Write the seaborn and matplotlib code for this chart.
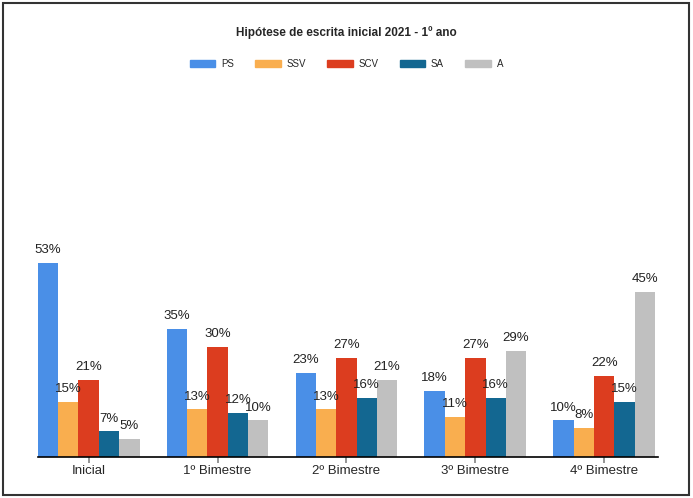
import numpy as np
import pandas as pd
import matplotlib.pyplot as plt
import seaborn as sns
from matplotlib.patches import Rectangle

categories = ["Inicial", "1º Bimestre", "2º Bimestre", "3º Bimestre", "4º Bimestre"]
series = ["PS", "SSV", "SCV", "SA", "A"]
ps = [53, 35, 23, 18, 10]
ssv = [15, 13, 13, 11, 8]
scv = [21, 30, 27, 27, 22]
sa = [7, 12, 16, 16, 15]
a = [5, 10, 21, 29, 45]
colors = ["#4a8fe7", "#f9ae4f", "#dc3d1f", "#136791", "#c0c0c0"]

rows = []
for name, vals in zip(series, [ps, ssv, scv, sa, a]):
    for cat, v in zip(categories, vals):
        rows.append({"periodo": cat, "hipotese": name, "valor": v})
df = pd.DataFrame(rows)

sns.set_theme(style="white")
plt.rcParams['font.family'] = ['Liberation Sans', 'DejaVu Sans']

fig = plt.figure(figsize=(6.93, 4.98), dpi=100)
ax = fig.add_axes([0.055, 0.082, 0.895, 0.737])

sns.barplot(data=df, x="periodo", y="valor", hue="hipotese", palette=colors,
            width=0.79, saturation=1, linewidth=0, ax=ax, legend=False)

for cont in ax.containers:
    ax.bar_label(cont, labels=[f"{int(b.get_height())}%" for b in cont],
                 padding=5, fontsize=9.5, color="#222222")

ax.set_ylim(0, 100)
ax.set_xlim(-0.392, 4.42)
ax.set_xlabel("")
ax.set_ylabel("")
ax.set_yticks([])
for s in ["left", "right", "top"]:
    ax.spines[s].set_visible(False)
ax.spines["bottom"].set_color("black")
ax.spines["bottom"].set_linewidth(1.2)
ax.tick_params(axis="x", bottom=True, length=4, color="#888888", labelsize=9.5, pad=2)

fig.text(0.5, 0.935, "Hipótese de escrita inicial 2021 - 1º ano", ha="center",
         va="center", fontsize=8.5, fontweight="bold")

handles = [Rectangle((0, 0), 1, 1, color=c) for c in colors]
fig.legend(handles, series, loc="center", bbox_to_anchor=(0.5, 0.872), ncol=5,
           frameon=False, fontsize=7, handlelength=2.6, handleheight=0.8,
           columnspacing=2.2, handletextpad=0.6)

fig.patches.append(Rectangle((0.004, 0.006), 0.99, 0.988, transform=fig.transFigure,
                             fill=False, edgecolor="#333333", linewidth=1.5))

fig.savefig("out.png", dpi=100)
